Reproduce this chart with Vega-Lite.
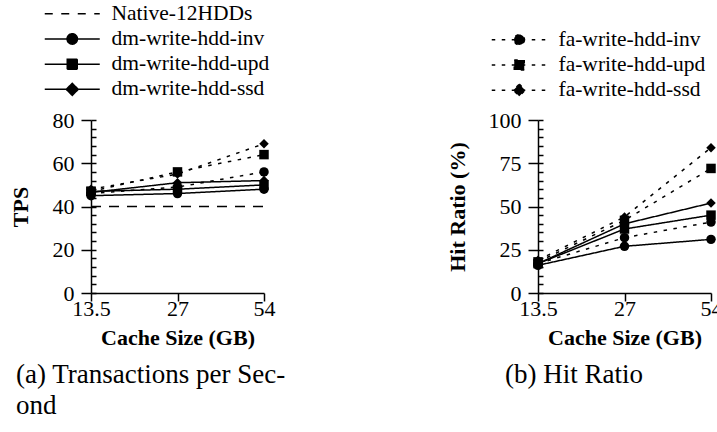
{
  "$schema": "https://vega.github.io/schema/vega-lite/v6.json",
  "background": "white",
  "padding": {"left": 9, "top": 3, "right": 0, "bottom": 0},
  "bounds": "flush",
  "spacing": 274,
  "datasets": {
    "tps": [
      {"series": "Native-12HDDs", "cache": "13.5", "value": 40},
      {"series": "Native-12HDDs", "cache": "27", "value": 40},
      {"series": "Native-12HDDs", "cache": "54", "value": 40},
      {"series": "dm-write-hdd-inv", "cache": "13.5", "value": 45},
      {"series": "dm-write-hdd-inv", "cache": "27", "value": 46},
      {"series": "dm-write-hdd-inv", "cache": "54", "value": 48},
      {"series": "dm-write-hdd-upd", "cache": "13.5", "value": 47},
      {"series": "dm-write-hdd-upd", "cache": "27", "value": 48},
      {"series": "dm-write-hdd-upd", "cache": "54", "value": 50},
      {"series": "dm-write-hdd-ssd", "cache": "13.5", "value": 46.5},
      {"series": "dm-write-hdd-ssd", "cache": "27", "value": 51},
      {"series": "dm-write-hdd-ssd", "cache": "54", "value": 52},
      {"series": "fa-write-hdd-inv", "cache": "13.5", "value": 46},
      {"series": "fa-write-hdd-inv", "cache": "27", "value": 49},
      {"series": "fa-write-hdd-inv", "cache": "54", "value": 56},
      {"series": "fa-write-hdd-upd", "cache": "13.5", "value": 47},
      {"series": "fa-write-hdd-upd", "cache": "27", "value": 56},
      {"series": "fa-write-hdd-upd", "cache": "54", "value": 64},
      {"series": "fa-write-hdd-ssd", "cache": "13.5", "value": 48},
      {"series": "fa-write-hdd-ssd", "cache": "27", "value": 55},
      {"series": "fa-write-hdd-ssd", "cache": "54", "value": 69}
    ],
    "hit": [
      {"series": "dm-write-hdd-inv", "cache": "13.5", "value": 16},
      {"series": "dm-write-hdd-inv", "cache": "27", "value": 27},
      {"series": "dm-write-hdd-inv", "cache": "54", "value": 31},
      {"series": "dm-write-hdd-upd", "cache": "13.5", "value": 17},
      {"series": "dm-write-hdd-upd", "cache": "27", "value": 37},
      {"series": "dm-write-hdd-upd", "cache": "54", "value": 45},
      {"series": "dm-write-hdd-ssd", "cache": "13.5", "value": 17},
      {"series": "dm-write-hdd-ssd", "cache": "27", "value": 40},
      {"series": "dm-write-hdd-ssd", "cache": "54", "value": 52},
      {"series": "fa-write-hdd-inv", "cache": "13.5", "value": 17},
      {"series": "fa-write-hdd-inv", "cache": "27", "value": 32},
      {"series": "fa-write-hdd-inv", "cache": "54", "value": 41},
      {"series": "fa-write-hdd-upd", "cache": "13.5", "value": 18},
      {"series": "fa-write-hdd-upd", "cache": "27", "value": 42},
      {"series": "fa-write-hdd-upd", "cache": "54", "value": 72},
      {"series": "fa-write-hdd-ssd", "cache": "13.5", "value": 19},
      {"series": "fa-write-hdd-ssd", "cache": "27", "value": 44},
      {"series": "fa-write-hdd-ssd", "cache": "54", "value": 84}
    ]
  },
  "config": {
    "view": {"stroke": null},
    "font": "Liberation Serif, Times New Roman, Times, DejaVu Serif, serif",
    "axis": {
      "labelFont": "Liberation Serif, Times New Roman, Times, DejaVu Serif, serif", "labelFontSize": 22, "labelColor": "black", "labelOverlap": false,
      "titleFont": "Liberation Serif, Times New Roman, Times, DejaVu Serif, serif", "titleFontSize": 22, "titleFontWeight": "bold", "titleColor": "black",
      "domainColor": "black", "domainWidth": 1.5, "tickColor": "black", "tickWidth": 1.5, "grid": false
    },
    "legend": {
      "labelFont": "Liberation Serif, Times New Roman, Times, DejaVu Serif, serif", "labelFontSize": 21.5, "labelColor": "black", "labelLimit": 0
    }
  },
  "hconcat": [
    {
      "width": 173, "height": 173,
      "data": {"name": "tps"},
      "title": {"text": ["(a) Transactions per Sec-", "ond"], "orient": "bottom", "anchor": "start", "frame": "group", "dx": -75, "font": "Liberation Serif, Times New Roman, Times, DejaVu Serif, serif", "fontSize": 27, "fontWeight": "normal", "color": "black", "offset": 14, "lineHeight": 31},
      "resolve": {"scale": {"shape": "independent", "strokeDash": "independent"}, "axis": {"y": "independent"}},
      "layer": [
        {
          "mark": {"type": "line", "color": "black", "strokeWidth": 1.5},
          "encoding": {
            "x": {"field": "cache", "type": "ordinal", "sort": ["13.5", "27", "54"], "scale": {"type": "point", "padding": 0}, "axis": {"title": "Cache Size (GB)", "labelAngle": 0, "tickSize": 8, "labelPadding": -3, "titlePadding": 8}},
            "y": {"field": "value", "type": "quantitative", "scale": {"domain": [0, 80], "nice": false}, "axis": {"title": "TPS", "values": [0, 20, 40, 60, 80], "tickSize": 10, "labelPadding": 7, "titlePadding": 20}},
            "detail": {"field": "series"},
            "strokeDash": {"field": "series", "type": "nominal", "scale": {"domain": ["Native-12HDDs", "dm-write-hdd-inv", "dm-write-hdd-upd", "dm-write-hdd-ssd", "fa-write-hdd-inv", "fa-write-hdd-upd", "fa-write-hdd-ssd"], "range": [[10, 8], [1, 0], [1, 0], [1, 0], [3.5, 6.5], [3.5, 6.5], [3.5, 6.5]]}, "legend": null}
          }
        },
        {
          "transform": [{"filter": "datum.series !== 'Native-12HDDs'"}],
          "mark": {"type": "point", "filled": true, "color": "black", "opacity": 1, "size": 90},
          "encoding": {
            "x": {"field": "cache", "type": "ordinal", "sort": ["13.5", "27", "54"]},
            "y": {"field": "value", "type": "quantitative", "axis": {"orient": "right", "offset": -173, "title": null, "values": [0,4,8,12,16,20,24,28,32,36,40,44,48,52,56,60,64,68,72,76,80], "labels": false, "domain": false, "tickSize": 5}},
            "shape": {"field": "series", "type": "nominal", "scale": {"domain": ["dm-write-hdd-inv", "dm-write-hdd-upd", "dm-write-hdd-ssd", "fa-write-hdd-inv", "fa-write-hdd-upd", "fa-write-hdd-ssd"], "range": ["circle", "square", "diamond", "circle", "square", "diamond"]}, "legend": null}
          }
        },
        {
          "transform": [{"filter": "false"}],
          "mark": {"type": "point", "filled": true, "color": "black", "opacity": 1, "stroke": "black", "strokeWidth": 1.5},
          "encoding": {
            "x": {"field": "cache", "type": "ordinal", "sort": ["13.5", "27", "54"]},
            "y": {"field": "value", "type": "quantitative", "axis": null},
            "shape": {"field": "series", "type": "nominal",
              "scale": {"domain": ["Native-12HDDs", "dm-write-hdd-inv", "dm-write-hdd-upd", "dm-write-hdd-ssd"],
                "range": ["M-5.5,0H5.5", "M-5.5,0H5.5M1.04,0A1.04,1.04,0,1,1,-1.04,0A1.04,1.04,0,1,1,1.04,0Z", "M-5.5,0H5.5M-1,-1H1V1H-1Z", "M-5.5,0H5.5M0,-1.2L1.2,0L0,1.2L-1.2,0Z"]},
              "legend": {"title": null, "orient": "none", "legendX": -29.5, "legendY": -117, "symbolSize": 100, "rowPadding": 2.2, "labelOffset": 28.5, "padding": 0}
            },
            "strokeDash": {"field": "series", "type": "nominal",
              "scale": {"domain": ["Native-12HDDs", "dm-write-hdd-inv", "dm-write-hdd-upd", "dm-write-hdd-ssd"], "range": [[8, 8.5], [1, 0], [1, 0], [1, 0]]},
              "legend": {"title": null, "orient": "none", "legendX": -29.5, "legendY": -117, "symbolSize": 100, "rowPadding": 2.2, "labelOffset": 28.5, "padding": 0}
            }
          }
        }
      ]
    },
    {
      "width": 173, "height": 173,
      "data": {"name": "hit"},
      "title": {"text": "(b) Hit Ratio", "orient": "bottom", "anchor": "start", "frame": "group", "dx": -33, "font": "Liberation Serif, Times New Roman, Times, DejaVu Serif, serif", "fontSize": 27, "fontWeight": "normal", "color": "black", "offset": 14, "lineHeight": 31},
      "resolve": {"scale": {"shape": "independent", "strokeDash": "independent"}, "axis": {"y": "independent"}},
      "layer": [
        {
          "mark": {"type": "line", "color": "black", "strokeWidth": 1.5},
          "encoding": {
            "x": {"field": "cache", "type": "ordinal", "sort": ["13.5", "27", "54"], "scale": {"type": "point", "padding": 0}, "axis": {"title": "Cache Size (GB)", "labelAngle": 0, "tickSize": 8, "labelPadding": -3, "titlePadding": 8}},
            "y": {"field": "value", "type": "quantitative", "scale": {"domain": [0, 100], "nice": false}, "axis": {"title": "Hit Ratio (%)", "values": [0, 25, 50, 75, 100], "tickSize": 10, "labelPadding": 7, "titlePadding": 19}},
            "detail": {"field": "series"},
            "strokeDash": {"field": "series", "type": "nominal", "scale": {"domain": ["dm-write-hdd-inv", "dm-write-hdd-upd", "dm-write-hdd-ssd", "fa-write-hdd-inv", "fa-write-hdd-upd", "fa-write-hdd-ssd"], "range": [[1, 0], [1, 0], [1, 0], [3.5, 6.5], [3.5, 6.5], [3.5, 6.5]]}, "legend": null}
          }
        },
        {
          "mark": {"type": "point", "filled": true, "color": "black", "opacity": 1, "size": 90},
          "encoding": {
            "x": {"field": "cache", "type": "ordinal", "sort": ["13.5", "27", "54"]},
            "y": {"field": "value", "type": "quantitative", "axis": {"orient": "right", "offset": -173, "title": null, "values": [0,5,10,15,20,25,30,35,40,45,50,55,60,65,70,75,80,85,90,95,100], "labels": false, "domain": false, "tickSize": 5}},
            "shape": {"field": "series", "type": "nominal", "scale": {"domain": ["dm-write-hdd-inv", "dm-write-hdd-upd", "dm-write-hdd-ssd", "fa-write-hdd-inv", "fa-write-hdd-upd", "fa-write-hdd-ssd"], "range": ["circle", "square", "diamond", "circle", "square", "diamond"]}, "legend": null}
          }
        },
        {
          "transform": [{"filter": "false"}],
          "mark": {"type": "point", "filled": true, "color": "black", "opacity": 1, "stroke": "black", "strokeWidth": 1.5},
          "encoding": {
            "x": {"field": "cache", "type": "ordinal", "sort": ["13.5", "27", "54"]},
            "y": {"field": "value", "type": "quantitative", "axis": null},
            "shape": {"field": "series", "type": "nominal",
              "scale": {"domain": ["fa-write-hdd-inv", "fa-write-hdd-upd", "fa-write-hdd-ssd"],
                "range": ["M-5.5,0H5.5M1.04,0A1.04,1.04,0,1,1,-1.04,0A1.04,1.04,0,1,1,1.04,0Z", "M-5.5,0H5.5M-1,-1H1V1H-1Z", "M-5.5,0H5.5M0,-1.2L1.2,0L0,1.2L-1.2,0Z"]},
              "legend": {"title": null, "orient": "none", "legendX": -29.5, "legendY": -91, "symbolSize": 100, "rowPadding": 2.2, "labelOffset": 28.5, "padding": 0}
            },
            "strokeDash": {"field": "series", "type": "nominal",
              "scale": {"domain": ["fa-write-hdd-inv", "fa-write-hdd-upd", "fa-write-hdd-ssd"], "range": [[3.5, 6.5], [3.5, 6.5], [3.5, 6.5]]},
              "legend": {"title": null, "orient": "none", "legendX": -29.5, "legendY": -91, "symbolSize": 100, "rowPadding": 2.2, "labelOffset": 28.5, "padding": 0}
            }
          }
        }
      ]
    }
  ]
}
